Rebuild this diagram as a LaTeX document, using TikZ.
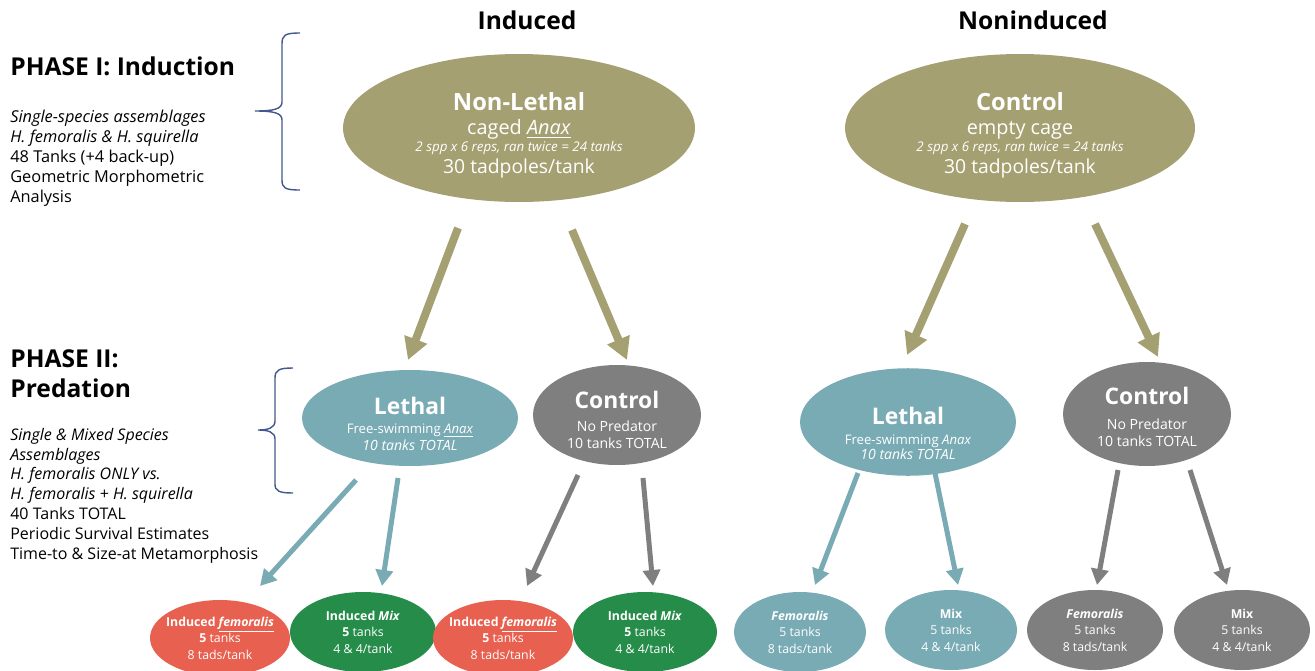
\documentclass[tikz,border=0pt]{standalone}
\usepackage{fontspec}
\setmainfont{Open Sans}
\usetikzlibrary{shapes.geometric,arrows.meta,calc}
\definecolor{nlolive}{HTML}{A5A071}
\definecolor{predteal}{HTML}{79ABB5}
\definecolor{ctlgray}{HTML}{7F7F7F}
\definecolor{femred}{HTML}{E8604F}
\definecolor{mixgreen}{HTML}{268C4A}
\definecolor{bracenavy}{HTML}{42588F}
\newcommand\fs[2]{\fontsize{#1}{#2}\selectfont}

\begin{document}
\begin{tikzpicture}[x=0.02cm,y=-0.02cm,
  bub/.style={ellipse, inner sep=0pt, text=white, align=center},
  topbub/.style={bub, fill=nlolive, minimum width=7.04cm, minimum height=2.96cm, font=\fs{10}{12}},
  midbub/.style={bub, font=\fs{8}{10}},
  lowbub/.style={bub, font=\fs{7}{9.4}, minimum height=1.6cm},
  oarrow/.style={line width=0.16cm, nlolive, -{Triangle[width=0.46cm,length=0.44cm]}},
  tarrow/.style={line width=0.1cm, predteal, -{Triangle[width=0.34cm,length=0.32cm]}},
  garrow/.style={tarrow, ctlgray},
  brace/.style={bracenavy, line width=0.8pt},
  phase/.style={anchor=north west, inner sep=0pt, align=left},
]
\useasboundingbox (0,0) rectangle (1315,670);

% column headers
\node[anchor=base, font=\fs{14}{17}\bfseries] (hind) at (527,29) {Induced};
\node[anchor=base, font=\fs{14}{17}\bfseries] (hnon) at (1033,29) {Noninduced};

% phase I text
\node[anchor=base west, inner sep=0pt, font=\fs{14}{17}\bfseries] (p1) at (10,75) {PHASE I: Induction};
\node[phase, font=\fs{9.3}{11.38}] (p1txt) at (10,107.9)
  {\rule{0pt}{8pt}\textit{Single-species assemblages}\\
   \textit{H. femoralis \& H. squirella}\\
   48 Tanks (+4 back-up)\\
   Geometric Morphometric\\
   Analysis};
\draw[brace] (300,33) .. controls (285,33) and (282,35) .. (282,44)
  -- (282,102) .. controls (282,109) and (274,111) .. (255,111)
  .. controls (274,111) and (282,113) .. (282,120)
  -- (282,180) .. controls (282,188) and (285,190) .. (300,190);

% phase II text
\node[phase, font=\fs{14}{17.1}\bfseries] (p2) at (10,345.9)
  {\rule{0pt}{12pt}PHASE II:\\Predation};
\node[phase, font=\fs{9.1}{11.27}] (p2txt) at (10,425.9)
  {\rule{0pt}{8pt}\textit{Single \& Mixed Species}\\
   \textit{Assemblages}\\
   \textit{H. femoralis ONLY vs.}\\
   \textit{H. femoralis + H. squirella}\\
   40 Tanks TOTAL\\
   Periodic Survival Estimates\\
   Time-to \& Size-at Metamorphosis};
\draw[brace] (293,368) .. controls (279,368) and (275,370) .. (275,378)
  -- (275,421) .. controls (275,428) and (268,430) .. (258,430)
  .. controls (268,430) and (275,432) .. (275,439)
  -- (275,484) .. controls (275,491) and (279,493) .. (293,493);

% induction
\node[topbub] (nl) at (519,128)
  {\rule{0pt}{18.2pt}\fs{13.5}{15}\textbf{Non-Lethal}\\[1.6pt]
   \fs{11.3}{12}caged \underline{\textit{Anax}}\\[-2.1pt]
   \fs{7.6}{8}\textit{2 spp x 6 reps, ran twice = 24 tanks}\\[0.2pt]
   \fs{11}{13}30 tadpoles/tank};
\node[topbub, minimum width=7cm] (ctlT) at (1020,128)
  {\rule{0pt}{18.2pt}\fs{13.5}{15}\textbf{Control}\\[1.6pt]
   \fs{11.3}{12}empty cage\\[-2.1pt]
   \fs{7.6}{8}\textit{2 spp x 6 reps, ran twice = 24 tanks}\\[0.2pt]
   \fs{11}{13}30 tadpoles/tank};

% predation
\node[midbub, fill=predteal, minimum width=4.32cm, minimum height=1.92cm] (lethA) at (410,418)
  {\rule{0pt}{17pt}\fs{13}{15}\textbf{Lethal}\\[0.8pt]
   \fs{7.5}{9}Free-swimming \underline{\textit{Anax}}\\[-0.3pt]
   \textit{10 tanks TOTAL}};
\node[midbub, fill=ctlgray, minimum width=3.36cm, minimum height=2cm] (ctlA) at (617,415)
  {\rule{0pt}{15.9pt}\fs{13}{15}\textbf{Control}\\[3.1pt]
   No Predator\\[-0.3pt]
   10 tanks TOTAL};
\node[midbub, fill=predteal, minimum width=4.32cm, minimum height=1.88cm] (lethB) at (908,422)
  {\rule{0pt}{23.3pt}\fs{13}{15}\textbf{Lethal}\\[1.4pt]
   \fs{7.5}{9}Free-swimming \textit{Anax}\\[-1.5pt]
   \textit{10 tanks TOTAL}};
\node[midbub, fill=ctlgray, minimum width=3.36cm, minimum height=2.08cm] (ctlB) at (1147,414)
  {\rule{0pt}{13.7pt}\fs{13}{15}\textbf{Control}\\[4.2pt]
   No Predator\\[-0.3pt]
   10 tanks TOTAL};

% treatments
\node[lowbub, fill=femred, inner xsep=-0.1cm, minimum width=2.8cm, minimum height=1.52cm] (b1) at (220,638)
  {\textbf{Induced \underline{\textit{femoralis}}}\\ \textbf{5} tanks\\ 8 tads/tank};
\node[lowbub, fill=mixgreen, minimum width=2.92cm] (b2) at (363,632)
  {\textbf{Induced \textit{Mix}}\\ \textbf{5} tanks\\ 4 \& 4/tank};
\node[lowbub, fill=femred, inner xsep=-0.1cm, minimum width=2.8cm, minimum height=1.52cm] (b3) at (503,638)
  {\textbf{Induced \underline{\textit{femoralis}}}\\ \textbf{5} tanks\\ 8 tads/tank};
\node[lowbub, fill=mixgreen, minimum width=2.88cm] (b4) at (645,632)
  {\textbf{Induced \textit{Mix}}\\ \textbf{5} tanks\\ 4 \& 4/tank};
\node[lowbub, fill=predteal, minimum width=2.64cm] (b5) at (800,632)
  {\textbf{\textit{Femoralis}}\\ 5 tanks\\ 8 tads/tank};
\node[lowbub, fill=predteal, minimum width=2.64cm] (b6) at (951,630)
  {\textbf{Mix}\\ 5 tanks\\ 4 \& 4/tank};
\node[lowbub, fill=ctlgray, minimum width=2.72cm] (b7) at (1095,630)
  {\textbf{\textit{Femoralis}}\\ 5 tanks\\ 8 tads/tank};
\node[lowbub, fill=ctlgray, minimum width=2.72cm] (b8) at (1242,630)
  {\textbf{Mix}\\ 5 tanks\\ 4 \& 4/tank};

% arrows
\draw[oarrow] ($(nl)+(-61,100)$) -- ($(lethA)+(-2,-58)$);
\draw[oarrow] ($(nl)+(53,102)$) -- ($(ctlA)+(10,-55)$);
\draw[oarrow] ($(ctlT)+(-55,96)$) -- ($(lethB)+(-1,-67)$);
\draw[oarrow] ($(ctlT)+(75,96)$) -- ($(ctlB)+(11,-57)$);
\draw[tarrow] ($(lethA)+(-54,62)$) -- ($(b1)+(40,-52)$);
\draw[tarrow] ($(lethA)+(-12,60)$) -- ($(b2)+(19,-46)$);
\draw[garrow] ($(ctlA)+(-39,60)$) -- ($(b3)+(24,-52)$);
\draw[garrow] ($(ctlA)+(26,63)$) -- ($(b4)+(8,-46)$);
\draw[tarrow] ($(lethB)+(-50,51)$) -- ($(b5)+(15,-47)$);
\draw[tarrow] ($(lethB)+(27,51)$) -- ($(b6)+(7,-45)$);
\draw[garrow] ($(ctlB)+(-29,56)$) -- ($(b7)+(2,-45)$);
\draw[garrow] ($(ctlB)+(43,56)$) -- ($(b8)+(-15,-45)$);
\end{tikzpicture}
\end{document}
